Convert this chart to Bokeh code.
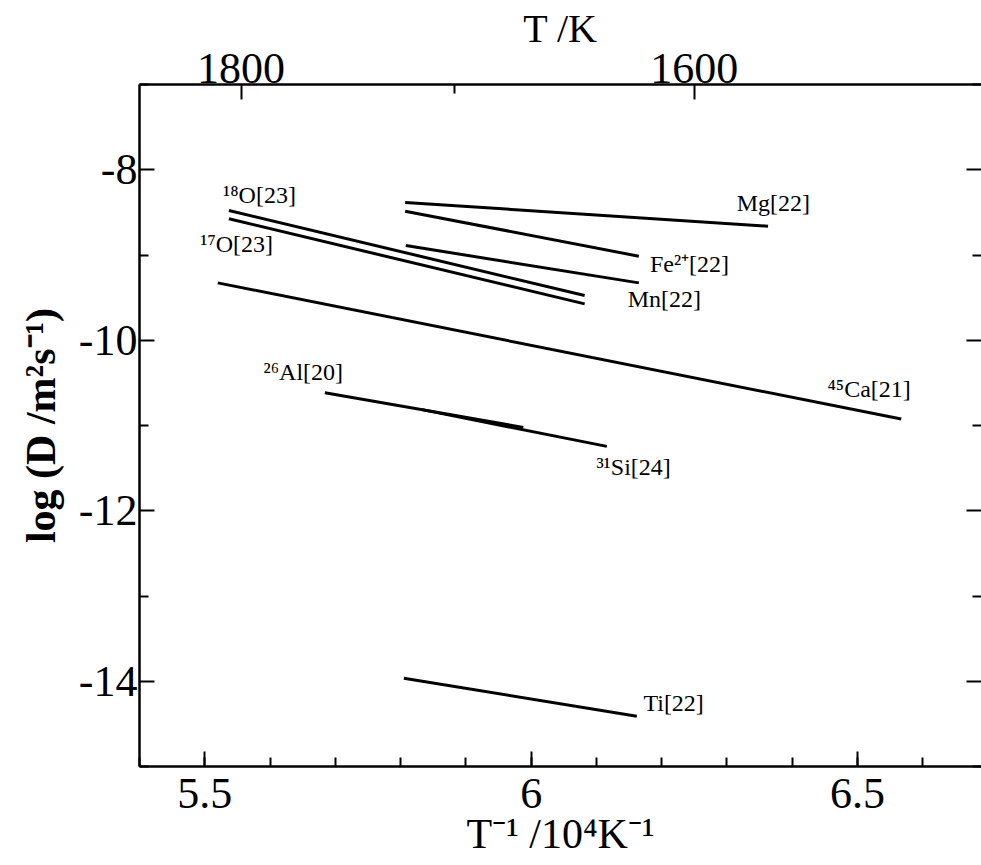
import numpy as np
from bokeh.plotting import figure
from bokeh.models import (Range1d, LinearAxis, FixedTicker, CustomJSTickFormatter,
                          ColumnDataSource)
from bokeh.core.properties import value
from bokeh.embed import file_html
from bokeh.resources import INLINE

# ---------------- data ----------------
species = ["18O", "17O", "Mg", "Fe2+", "Mn", "45Ca", "26Al", "31Si", "Ti"]
inv_T_start = [5.537, 5.537, 5.807, 5.807, 5.808, 5.520, 5.684, 5.833, 5.805]
inv_T_end = [6.082, 6.082, 6.363, 6.165, 6.165, 6.567, 5.988, 6.116, 6.162]
logD_start = [-8.478, -8.575, -8.384, -8.486, -8.889, -9.327, -10.615, -10.814, -13.965]
logD_end = [-9.476, -9.573, -8.662, -9.014, -9.327, -10.924, -11.022, -11.245, -14.411]

label_text = ["¹⁸O[23]", "¹⁷O[23]", "Mg[22]", "Fe²⁺[22]", "Mn[22]",
              "⁴⁵Ca[21]", "²⁶Al[20]", "³¹Si[24]", "Ti[22]"]
label_x = [5.528, 5.493, 6.315, 6.182, 6.148, 6.454, 5.590, 6.100, 6.172]
label_y = [-8.302, -8.869, -8.387, -9.104, -9.515, -10.571, -10.376, -11.492, -14.251]

x_major = [5.5, 6.0, 6.5]
x_minor = [5.4, 5.5, 5.6, 5.7, 5.8, 5.9, 6.0, 6.1, 6.2, 6.3, 6.4, 6.5, 6.6]
y_major = [-14, -12, -10, -8]
y_minor = [-15, -13, -11, -9, -7]
T_major = [1800, 1600]
T_minor = [1700]

x_title = "T⁻¹ /10⁴K⁻¹"
top_title = "T /K"
y_title = "log (D /m²s⁻¹)"

# ---------------- layout ----------------
W, H = 981, 865
FL, FT, FB = 139, 84, 99
X0, X1 = 5.4, 6.69
Y0, Y1 = -15, -7
FONT = "Liberation Serif"

p = figure(width=W, height=H, x_range=Range1d(X0, X1), y_range=Range1d(Y0, Y1),
           output_backend="svg", toolbar_location=None,
           x_axis_location=None, y_axis_location=None,
           min_border_left=FL, min_border_right=0, min_border_top=FT, min_border_bottom=FB)
p.outline_line_color = None
p.background_fill_color = "white"
p.border_fill_color = "white"
for g in p.grid:
    g.visible = False


def style_axis(ax, labels=True, size="44px"):
    ax.axis_line_width = 2.5
    ax.axis_line_color = "black"
    ax.major_tick_line_width = 2
    ax.minor_tick_line_width = 2
    ax.major_tick_in = 15
    ax.major_tick_out = 0
    ax.minor_tick_in = 9
    ax.minor_tick_out = 0
    ax.major_label_text_font = FONT
    ax.major_label_text_font_size = size if labels else "0px"
    ax.major_label_text_color = "black"
    ax.axis_label_text_font = FONT
    ax.axis_label_text_color = "black"
    ax.axis_label_text_font_style = "normal"


bottom = LinearAxis(ticker=FixedTicker(ticks=x_major, minor_ticks=x_minor),
                    formatter=CustomJSTickFormatter(code="return String(Math.round(tick*10)/10);"))
style_axis(bottom)
bottom.major_label_standoff = 12
bottom.axis_label = x_title
bottom.axis_label_text_font_size = "42px"
bottom.axis_label_standoff = 0
p.add_layout(bottom, "below")

left = LinearAxis(ticker=FixedTicker(ticks=y_major, minor_ticks=y_minor),
                  formatter=CustomJSTickFormatter(code="return tick.toFixed(0);"))
style_axis(left)
left.major_label_standoff = 2
left.axis_label = y_title
left.axis_label_text_font_size = "42px"
left.axis_label_text_font_style = "bold"
left.axis_label_standoff = 12
p.add_layout(left, "left")

top = LinearAxis(ticker=FixedTicker(ticks=[1e4 / t for t in T_major],
                                    minor_ticks=[1e4 / t for t in T_minor]),
                 formatter=CustomJSTickFormatter(code="return (1e4/tick).toFixed(0);"))
style_axis(top)
top.major_label_standoff = 2
top.axis_label = top_title
top.axis_label_text_font_size = "40px"
top.axis_label_standoff = 0
p.add_layout(top, "above")

right = LinearAxis(ticker=FixedTicker(ticks=y_major, minor_ticks=y_minor),
                   formatter=CustomJSTickFormatter(code="return '';"))
style_axis(right, labels=False)
right.axis_line_color = None
right.major_label_standoff = 0
p.add_layout(right, "right")

# ---------------- data lines ----------------
src = ColumnDataSource(dict(x0=inv_T_start, y0=logD_start, x1=inv_T_end, y1=logD_end))
p.segment("x0", "y0", "x1", "y1", source=src, line_width=3, line_color="black")

lsrc = ColumnDataSource(dict(x=label_x, y=label_y, t=label_text))
p.text("x", "y", text="t", source=lsrc, text_font=value(FONT), text_font_size=value("24px"),
       text_align="left", text_baseline="middle", text_color="black")

open("out.html", "w").write(file_html(p, INLINE))
